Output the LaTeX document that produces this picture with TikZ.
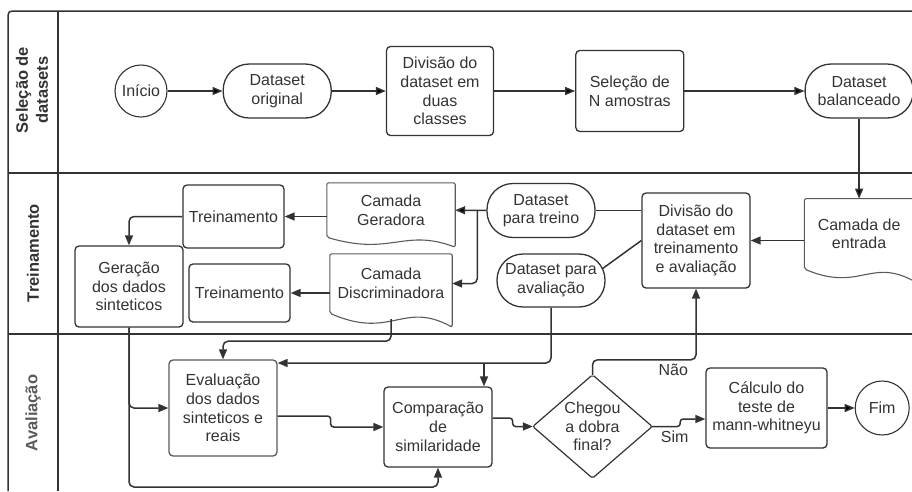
\documentclass[tikz,border=0pt]{standalone}
\usepackage{fontspec}
\setmainfont{Liberation Sans}
\usetikzlibrary{arrows.meta, positioning, calc}
\definecolor{ink}{HTML}{333333}
\definecolor{soft}{HTML}{5A5A5A}

% contorno de documento (base ondulada)
\newcommand{\docwave}[2]{%
  \draw[docline] (#1.south west) -- (#1.north west) -- (#1.north east)
    -- ([yshift=-#2]#1.south east)
    .. controls ($(#1.south west)!0.6!(#1.south east)+(0pt,0.9*#2)$)
    and ($(#1.south west)!0.5!(#1.south east)+(0pt,-1.9*#2)$) .. (#1.south west) -- cycle;}

\begin{document}
\begin{tikzpicture}[x=1pt, y=-1pt,
    every node/.style={text=ink, font=\fontsize{16}{18.7}\selectfont},
    box/.style={draw=ink, line width=1.3pt, rounded corners=4pt, align=center, inner sep=2pt},
    term/.style={draw=ink, line width=1.3pt, rounded corners=26pt, align=center, inner sep=0pt,
      minimum width=108pt, minimum height=54pt},
    ends/.style={circle, draw=ink, line width=1.1pt, minimum size=52pt, inner sep=0pt},
    doc/.style={align=center, inner sep=0pt},
    docline/.style={draw=soft, line width=1.1pt, rounded corners=2pt},
    flow/.style={draw=ink, line width=1.5pt, rounded corners=5pt, -{Triangle[length=10pt,width=8pt]}},
    link/.style={draw=ink, line width=1.5pt},
    lane/.style={draw=ink, line width=1.5pt},
    lanelabel/.style={rotate=90, align=center, font=\bfseries\fontsize{16.5}{20}\selectfont}]
\useasboundingbox (0,0) rectangle (912,491);

% raias
\draw[lane, rounded corners=4pt] (912,11) -- (8,11) -- (8,491);
\draw[lane] (58,11) -- (58,491);
\draw[lane] (8,173) -- (912,173) (8,334) -- (912,334);
\node[lanelabel] (raia1) at (32,90) {Seleção de\\datasets};
\node[lanelabel] (raia2) at (33,253) {Treinamento};
\node[lanelabel, text=soft] (raia3) at (33,413) {Avaliação};

% selecao de datasets
\node[ends] (ini) at (141,91) {Início};
\node[term, right=55pt of ini] (dsorig) {Dataset\\original};
\node[box, minimum width=107pt, minimum height=89pt, right=54pt of dsorig] (divcl) {Divisão do\\dataset em\\duas\\classes};
\node[box, minimum width=108pt, minimum height=81pt, right=81pt of divcl] (selN) {Seleção de\\N amostras};
\node[term, right=120pt of selN] (dsbal) {Dataset\\balanceado};

% treinamento
\node[doc, minimum width=109pt, minimum height=70pt, below=80pt of dsbal] (entrada) {Camada de\\entrada};
\node[box, minimum width=108pt, minimum height=95pt] (divtr) at (696,240.5) {Divisão do\\dataset em\\treinamento\\e avaliação};
\node[term] (dstreino) at (541,210.5) {Dataset\\para treino};
\node[term, minimum height=53pt] (dsaval) at (551,280.5) {Dataset para\\avaliação};
\node[doc, minimum width=128pt, minimum height=54pt] (geradora) at (391,210) {Camada\\Geradora};
\node[doc, minimum width=122pt, minimum height=59pt] (discrim) at (391,283.5) {Camada\\Discriminadora};
\node[box, minimum width=101pt, minimum height=63pt] (trein1) at (233.5,216.5) {Treinamento};
\node[box, minimum width=101pt, minimum height=58pt] (trein2) at (239.5,293) {Treinamento};
\node[box, minimum width=108pt, minimum height=81pt] (geracao) at (129,286.5) {Geração\\dos dados\\sinteticos};
\docwave{entrada}{12pt}
\docwave{geradora}{10pt}
\docwave{discrim}{14pt}

% avaliacao
\node[box, draw=soft, minimum width=108pt, minimum height=96pt] (evalua) at (223,408) {Evaluação\\dos dados\\sinteticos e\\reais};
\node[box, minimum width=108pt, minimum height=80pt] (compar) at (438,427) {Comparação\\de\\similaridade};
\node[align=center, inner sep=0pt, minimum width=119pt, minimum height=103pt] (dobra) at (592.5,426.5) {Chegou\\a dobra\\final?};
\draw[link, line width=1.2pt, rounded corners=2pt] (dobra.north) -- (dobra.east) -- (dobra.south) -- (dobra.west) -- cycle;
\node[box, minimum width=121pt, minimum height=80pt] (calculo) at (766.5,408) {Cálculo do\\teste de\\mann-whitneyu};
\node[ends, minimum size=54pt, right=27pt of calculo] (fim) {Fim};
\coordinate (avj) at (484,363);

\draw[flow]
  (ini) edge (dsorig)
  (dsorig) edge (divcl)
  (divcl) edge (selN)
  (selN) edge (dsbal)
  (dsbal) edge (entrada)
  (dstreino) edge (geradora)
  (calculo) edge (fim);
\draw[flow] (entrada.west |- divtr.east) -- (divtr.east);
\draw[flow] (geradora.west |- trein1.east) -- (trein1.east);
\draw[flow] (discrim.west |- trein2.east) -- (trein2.east);
\draw[link] (divtr.west |- dstreino.east) -- (dstreino.east);
\draw[link] (divtr.west) -- ([shift={(-3pt,12pt)}]dsaval.east);
\draw[flow] ([xshift=-9pt]dstreino.west) |- (discrim.east);
\draw[flow] (trein1.west) -| (geracao.north);
\draw[flow] (geracao.south) |- (evalua.west);
\draw[flow] (geracao.south) -- (geracao.south |- 0,487) -| (compar.south);
\draw[flow] ([yshift=-6pt]discrim.south) -- ++(0,22) -| (evalua.north);
\draw[flow] (dsaval.south) |- ([yshift=45pt]evalua.east);
\draw[flow] (avj) -- (avj |- compar.north);
\draw[flow, rounded corners=3pt] ([yshift=-8pt]evalua.east) -- ++(53,0) |- (compar.west);
\draw[flow, rounded corners=3pt] ([yshift=9pt]compar.east) -- ++(20,0) |- (dobra.west);
\draw[flow] (dobra.north) -- ++(0,-15) -| node[pos=0.39, below] (nao) {Não} (divtr.south);
\draw[flow, rounded corners=3pt] (dobra.east) -- node[pos=0.8, below] (sim) {Sim} ++(28,0) |- ([yshift=-11pt]calculo.west);
\end{tikzpicture}
\end{document}
